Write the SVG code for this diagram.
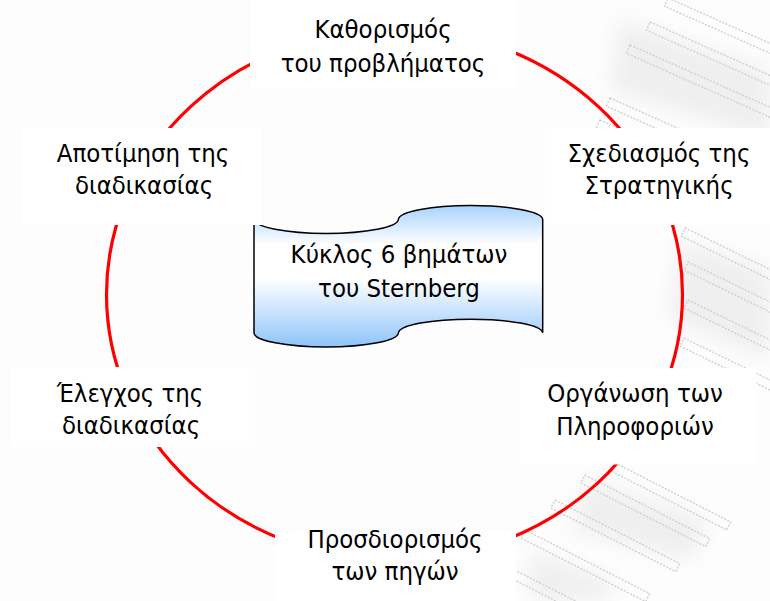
<svg xmlns="http://www.w3.org/2000/svg" width="770" height="601" viewBox="0 0 770 601">
  <defs>
    <linearGradient id="bannerFill" x1="0" y1="0" x2="0" y2="1">
      <stop offset="0" stop-color="#a9d3ff"/>
      <stop offset="0.28" stop-color="#ffffff"/>
      <stop offset="0.52" stop-color="#ffffff"/>
      <stop offset="1" stop-color="#8ec4fb"/>
    </linearGradient>
    <filter id="soft" x="-30%" y="-30%" width="160%" height="160%">
      <feGaussianBlur stdDeviation="10"/>
    </filter>
  </defs>
  <style>
    .lbl { font-family: "DejaVu Sans Condensed", "DejaVu Sans", sans-serif; font-size: 25.5px; fill: #000; text-anchor: middle; }
    .box { fill: #ffffff; stroke: none; }
    .rung { fill: none; stroke: #cfcfcf; stroke-width: 1.4; stroke-dasharray: 2 1.5; }
    .shade { fill: #efefef; filter: url(#soft); }
  </style>

  <rect x="0" y="0" width="770" height="601" fill="#fdfdfd"/>

  <!-- faint background watermark -->
  <g id="watermark">
    <path class="shade" d="M620,20 L770,70 L770,140 L610,90 Z"/>
    <path class="shade" d="M680,240 L770,270 L770,360 L670,320 Z"/>
    <path class="shade" d="M590,480 L710,520 L690,560 L570,530 Z"/>
    <path class="shade" d="M530,550 L620,585 L600,601 L530,601 Z"/>
    <rect class="rung" x="0" y="0" width="150" height="9" transform="translate(668,-2) rotate(24)"/>
    <rect class="rung" x="0" y="0" width="150" height="9" transform="translate(650,22) rotate(24)"/>
    <rect class="rung" x="0" y="0" width="160" height="9" transform="translate(630,45) rotate(24)"/>
    <rect class="rung" x="0" y="0" width="160" height="9" transform="translate(610,98) rotate(24)"/>
    <rect class="rung" x="0" y="0" width="160" height="9" transform="translate(600,120) rotate(24)"/>
    <rect class="rung" x="0" y="0" width="140" height="9" transform="translate(685,228) rotate(26)"/>
    <rect class="rung" x="0" y="0" width="140" height="9" transform="translate(688,262) rotate(26)"/>
    <rect class="rung" x="0" y="0" width="140" height="9" transform="translate(688,300) rotate(26)"/>
    <rect class="rung" x="0" y="0" width="140" height="9" transform="translate(684,338) rotate(26)"/>
    <rect class="rung" x="0" y="0" width="130" height="9" transform="translate(615,463) rotate(27)"/>
    <rect class="rung" x="0" y="0" width="140" height="9" transform="translate(585,475) rotate(27)"/>
    <rect class="rung" x="0" y="0" width="140" height="9" transform="translate(555,500) rotate(27)"/>
    <rect class="rung" x="0" y="0" width="140" height="9" transform="translate(525,530) rotate(27)"/>
    <rect class="rung" x="0" y="0" width="140" height="9" transform="translate(505,565) rotate(27)"/>
  </g>

  <!-- cycle connector -->
  <g id="connectors">
    <ellipse cx="394.5" cy="294.5" rx="288" ry="266" fill="none" stroke="#ff0000" stroke-width="3.2"/>
  </g>

  <g id="center">
    <path d="M254,219.2 A72.2,14.2 0 0 0 398.4,219.2 A72.2,14.2 0 0 1 542.7,219.2 L542.7,332.8 A72.2,14.2 0 0 0 398.4,332.8 A72.2,14.2 0 0 1 254,332.8 Z" fill="url(#bannerFill)" stroke="#000" stroke-width="1.5"/>
    <text class="lbl" x="399" y="263">Κύκλος 6 βημάτων</text>
    <text class="lbl" x="399" y="296.5">του Sternberg</text>
  </g>

  <g id="step1">
    <rect class="box" x="250" y="0" width="266" height="88"/>
    <text class="lbl" x="383" y="38">Καθορισμός</text>
    <text class="lbl" x="383" y="71.5">του προβλήματος</text>
  </g>

  <g id="step2">
    <rect class="box" x="545" y="128" width="225" height="97"/>
    <text class="lbl" x="659" y="161.5">Σχεδιασμός της</text>
    <text class="lbl" x="659" y="194">Στρατηγικής</text>
  </g>

  <g id="step3">
    <rect class="box" x="520" y="368" width="236.5" height="96.5"/>
    <text class="lbl" x="635" y="402">Οργάνωση των</text>
    <text class="lbl" x="635" y="434.5">Πληροφοριών</text>
  </g>

  <g id="step4">
    <rect class="box" x="275" y="533" width="241" height="68"/>
    <text class="lbl" x="395" y="547.5">Προσδιορισμός</text>
    <text class="lbl" x="395" y="579.5">των πηγών</text>
  </g>

  <g id="step5">
    <rect class="box" x="10" y="367" width="245" height="80"/>
    <text class="lbl" x="130" y="402">Έλεγχος της</text>
    <text class="lbl" x="131" y="433.5">διαδικασίας</text>
  </g>

  <g id="step6">
    <rect class="box" x="22" y="128" width="240" height="97"/>
    <text class="lbl" x="143" y="161.5">Αποτίμηση της</text>
    <text class="lbl" x="144" y="194">διαδικασίας</text>
  </g>
</svg>
